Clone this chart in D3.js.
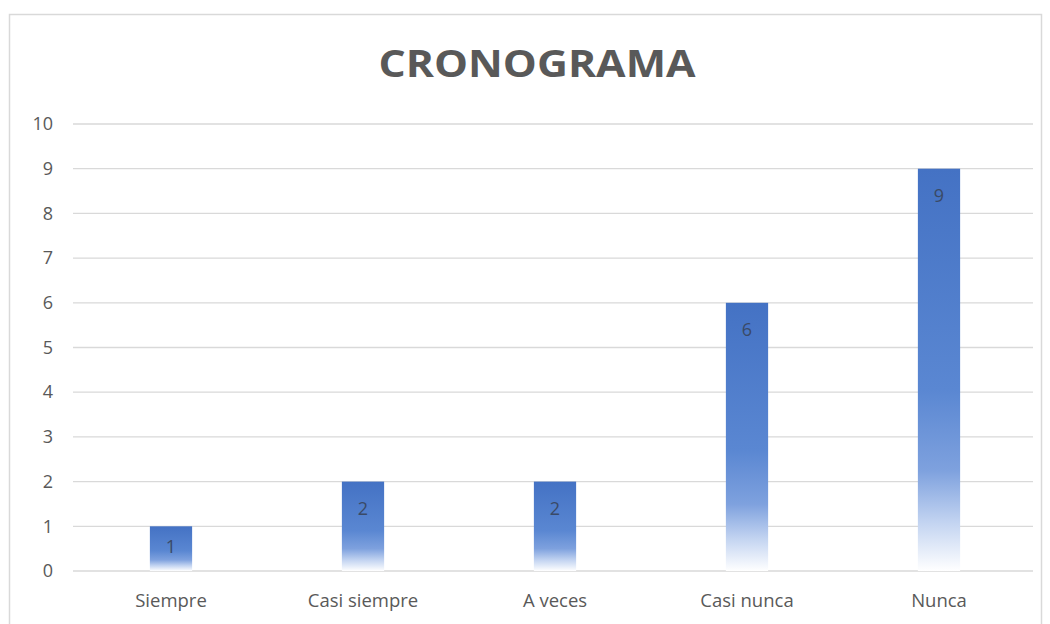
<!DOCTYPE html>
<html>
<head>
<meta charset="utf-8">
<script src="https://cdn.jsdelivr.net/npm/d3@7"></script>
<style>
  html, body { margin: 0; padding: 0; background: #fff; }
  svg { display: block; }
  text { font-family: "Open Sans", "Noto Sans", sans-serif; }
</style>
</head>
<body>
<svg id="chart" width="1050" height="624"></svg>
<script>
// Survey answers and their counts
const categories = ["Siempre", "Casi siempre", "A veces", "Casi nunca", "Nunca"];
const counts = [1, 2, 2, 6, 9];
const yTicks = [0, 1, 2, 3, 4, 5, 6, 7, 8, 9, 10];
const chartTitle = "CRONOGRAMA";

const svg = d3.select("#chart");
const plot = { left: 73, right: 1033, top: 124, bottom: 571 };

// Chart frame
svg.append("rect")
  .attr("x", 9.5).attr("y", 14.5)
  .attr("width", 1032).attr("height", 640)
  .attr("fill", "#fff")
  .attr("stroke", "#d9d9d9").attr("stroke-width", 1.5);

// Bar fill: solid blue on top fading to white at the base
const defs = svg.append("defs");
const grad = defs.append("linearGradient")
  .attr("id", "barFill")
  .attr("x1", 0).attr("y1", 0).attr("x2", 0).attr("y2", 1);
[[0, "#4472c4"], [0.55, "#5a87d2"], [0.75, "#7ea1de"], [0.88, "#c3d4f1"], [1, "#ffffff"]]
  .forEach(([o, c]) => grad.append("stop").attr("offset", o).attr("stop-color", c));

const x = d3.scaleBand().domain(categories).range([plot.left + 2, plot.right + 2]).paddingInner(0.78).paddingOuter(0.39);
const y = d3.scaleLinear().domain([0, 10]).range([plot.bottom, plot.top]);

// Horizontal gridlines
svg.append("g")
  .selectAll("line")
  .data(yTicks)
  .join("line")
  .attr("x1", plot.left).attr("x2", plot.right)
  .attr("y1", d => y(d)).attr("y2", d => y(d))
  .attr("stroke", "#d9d9d9").attr("stroke-width", 1.3);

// Y axis labels
const yAxis = svg.append("g")
  .attr("transform", `translate(${plot.left},0)`)
  .call(d3.axisLeft(y).tickValues(yTicks).tickSize(0).tickPadding(20).tickFormat(d3.format("d")));
yAxis.select(".domain").remove();
yAxis.selectAll("text")
  .attr("font-size", 18).attr("fill", "#595959")
  .style("font-family", "'Open Sans', sans-serif");

// X axis labels
const xAxis = svg.append("g")
  .attr("transform", `translate(0,${plot.bottom})`)
  .call(d3.axisBottom(x).tickSize(0).tickPadding(23));
xAxis.select(".domain").remove();
xAxis.selectAll("text")
  .attr("font-size", 18.5).attr("fill", "#595959")
  .style("font-family", "'Open Sans', sans-serif");

// Bars
svg.append("g")
  .selectAll("rect")
  .data(counts)
  .join("rect")
  .attr("x", (d, i) => x(categories[i]))
  .attr("y", d => y(d))
  .attr("width", x.bandwidth())
  .attr("height", d => y(0) - y(d))
  .attr("fill", "url(#barFill)");

// Value labels inside the top of each bar (kept inside short bars)
svg.append("g")
  .selectAll("text")
  .data(counts)
  .join("text")
  .attr("x", (d, i) => x(categories[i]) + x.bandwidth() / 2)
  .attr("y", d => Math.min(y(d) + 33, y(0) - 18))
  .attr("text-anchor", "middle")
  .attr("font-size", 18)
  .attr("fill", "#3a4a66")
  .text(d => d);

// Title
svg.append("text")
  .attr("x", 537).attr("y", 77)
  .attr("text-anchor", "middle")
  .attr("font-size", 37)
  .attr("font-weight", "bold")
  .attr("fill", "#595959")
  .attr("textLength", 317)
  .attr("lengthAdjust", "spacingAndGlyphs")
  .text(chartTitle);
</script>
</body>
</html>
